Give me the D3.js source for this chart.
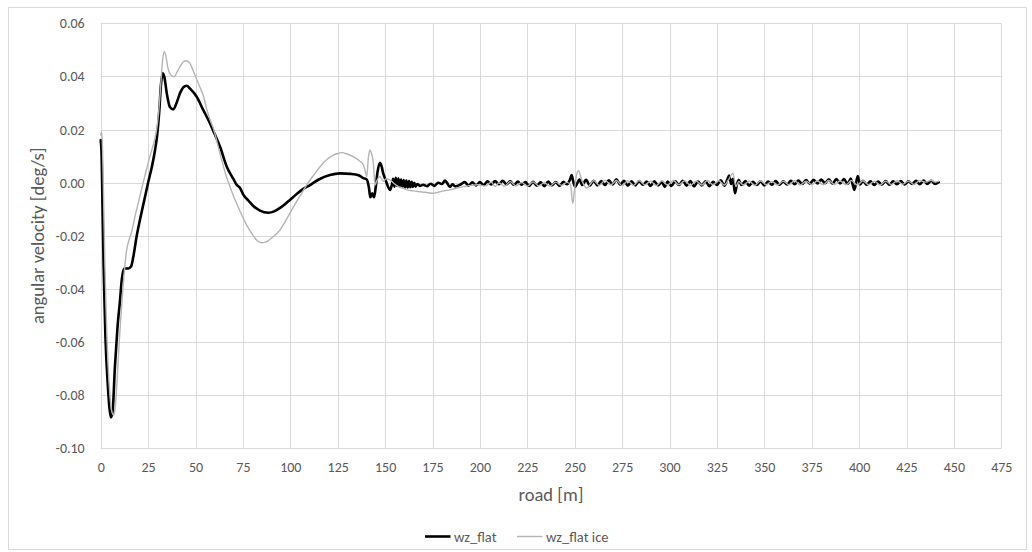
<!DOCTYPE html>
<html>
<head>
<meta charset="utf-8">
<script src="https://cdn.jsdelivr.net/npm/d3@7/dist/d3.min.js"></script>
<style>
  html, body { margin: 0; padding: 0; background: #fff; }
  svg { display: block; }
  text { font-family: Calibri, Carlito, Lato, "Noto Sans", sans-serif; fill: #595959; }
</style>
</head>
<body>
<svg id="chart" width="1032" height="552"></svg>
<script>
// ---------------- data ----------------
const xTicks = [0, 25, 50, 75, 100, 125, 150, 175, 200, 225, 250, 275, 300, 325, 350, 375, 400, 425, 450, 475];
const yTicks = [-0.10, -0.08, -0.06, -0.04, -0.02, 0.00, 0.02, 0.04, 0.06];
const seriesNames = ["wz_flat", "wz_flat ice"];
const xTitle = "road [m]";
const yTitle = "angular velocity [deg/s]";

const roadFlat = [
  0, 0.5, 0.9, 1.5, 2.0, 2.5, 3.7, 4.5, 5.4, 6.3, 7.5, 8.8, 10.2, 11.1, 12.0, 12.5, 14.6, 16.0, 17.2, 19.0,
  21.0, 23.0, 25.0, 27.0, 28.6, 29.8, 30.9, 31.8, 32.7, 33.5, 35.0, 36.5, 38.3, 40.0, 42.0, 44.0, 45.4, 47.0, 50.6, 54.0,
  57.6, 60.0, 62.9, 66.5, 69.9, 71.7, 73.5, 75.2, 78.0, 80.5, 84.0, 88.4, 91.5, 94.6, 97.0, 99.8, 103.0, 106.5, 110.4, 115.0,
  120.9, 126.2, 132.0, 136.0, 138.5, 140.3, 141.5, 142.2, 143.2, 144.2, 145.0, 146.0, 147.3, 148.2, 149.0, 150.0, 151.0, 152.6, 153.5, 154.2,
  154.9, 155.6, 156.3, 157.0, 157.7, 158.4, 159.1, 159.8, 160.5, 161.2, 161.9, 162.6, 163.3, 164.0, 164.7, 165.4, 166.1, 167.0, 168.4, 170.0,
  172.0, 174.0, 176.0, 178.0, 180.0, 181.6, 182.5, 184.2, 185.5, 187.0, 190, 192, 194, 196, 198, 200, 202, 204, 206, 208,
  210, 212, 214, 216, 218, 220, 222, 224, 226, 228, 230, 232, 234, 236, 238, 240, 242, 244, 246, 247.5,
  248.4, 249.2, 250.2, 251.2, 252.5, 254, 256, 258, 260, 262, 264, 266, 268, 270, 272, 274, 276, 278, 280, 282,
  284, 286, 288, 290, 292, 294, 296, 297.5, 299, 301, 303, 305, 307, 309, 311, 313, 315, 317, 319, 321,
  323, 325, 327, 329, 330.5, 331.5, 332.5, 333.5, 334.5, 335.5, 336.5, 338, 340, 342, 344, 346, 348, 350, 352, 354,
  356, 358, 360, 362, 364, 366, 368, 370, 372, 374, 376, 378, 380, 382, 384, 386, 388, 390, 392, 394,
  395.6, 397.5, 399.3, 400.5, 402, 404, 406, 408, 410, 412, 414, 416, 418, 420, 422, 424, 426, 428, 430, 432,
  434, 436, 438, 440, 442
];
const wzFlat = [
  0.016, 0.010, -0.0065, -0.030, -0.045, -0.058, -0.0756, -0.084, -0.0884, -0.086, -0.0693, -0.055, -0.0442, -0.0366, -0.0330, -0.0323, -0.0323, -0.0316, -0.0279, -0.020,
  -0.013, -0.0065, 0.0, 0.006, 0.012, 0.018, 0.027, 0.037, 0.0412, 0.040, 0.033, 0.0285, 0.0276, 0.030, 0.034, 0.0362, 0.0365, 0.0355, 0.0324, 0.0275,
  0.0224, 0.0185, 0.0136, 0.006, 0.0015, -0.0008, -0.0020, -0.0045, -0.0068, -0.0088, -0.0105, -0.0113, -0.0108, -0.0095, -0.0082, -0.0065, -0.0045, -0.0025, -0.0009, 0.0012,
  0.0029, 0.0035, 0.0033, 0.0028, 0.0017, 0.0012, -0.0020, -0.0055, -0.0040, -0.0055, -0.0020, 0.0040, 0.0075, 0.0060, 0.0035, 0.0015, -0.0005, -0.0027, -0.0010, 0.0015,
  -0.0015, 0.0018, -0.0012, 0.0016, -0.0014, 0.0012, -0.0016, 0.0010, -0.0018, 0.0008, -0.0018, 0.0006, -0.0017, 0.0003, -0.0016, 0.0000, -0.0015, -0.0005, -0.0012, -0.0008,
  -0.0013, -0.0004, -0.0012, 0.0000, -0.0005, 0.0008, 0.0001, -0.0016, -0.0006, -0.0014, -0.0006, 0.0002, -0.0011, 0.0001, -0.0010, 0.0002, -0.0009, 0.0005, -0.0007, 0.0006,
  -0.0006, 0.0007, -0.0006, 0.0005, -0.0009, 0.0004, -0.0008, 0.0002, -0.0012, 0.0003, -0.0011, 0.0001, -0.0013, 0.0004, -0.0010, 0.0002, -0.0012, 0.0003, -0.0006, 0.0012,
  0.0029, 0.0005, -0.0015, -0.0004, 0.0012, -0.0009, 0.0011, -0.0011, 0.0007, -0.0010, 0.0006, -0.0009, 0.0009, -0.0007, 0.0013, -0.0008, 0.0007, -0.0011, 0.0005, -0.0010,
  0.0006, -0.0008, 0.0004, -0.0012, 0.0005, -0.0010, 0.0002, -0.0016, 0.0004, -0.0012, 0.0005, -0.0009, 0.0007, -0.0011, 0.0006, -0.0014, 0.0004, -0.0010, 0.0005, -0.0013,
  0.0003, -0.0009, 0.0009, -0.0011, 0.0012, 0.0027, -0.0005, 0.0015, -0.0040, -0.0008, 0.0010, -0.0009, 0.0006, -0.0011, 0.0003, -0.0009, 0.0005, -0.0010, 0.0004, -0.0008,
  0.0006, -0.0008, 0.0005, -0.0007, 0.0007, -0.0006, 0.0008, -0.0005, 0.0010, -0.0004, 0.0011, -0.0003, 0.0012, -0.0002, 0.0013, -0.0004, 0.0014, -0.0003, 0.0014, -0.0005,
  0.0016, -0.0027, 0.0025, -0.0007, 0.0007, -0.0008, 0.0005, -0.0009, 0.0004, -0.0007, 0.0006, -0.0008, 0.0005, -0.0006, 0.0006, -0.0007, 0.0005, -0.0005, 0.0007, -0.0006,
  0.0008, -0.0005, 0.0007, -0.0005, 0.0002
];

const roadIce = [
  0, 0.5, 1.0, 1.5, 2.2, 3.0, 4.0, 5.0, 6.0, 6.8, 7.6, 8.6, 9.6, 10.5, 11.5, 12.5, 13.7, 15.0, 16.3, 18.0,
  20.2, 22.4, 24.0, 26.0, 28.0, 29.5, 30.5, 31.5, 32.5, 33.4, 34.3, 35.5, 37.0, 38.7, 40.5, 42.5, 44.2, 45.4, 47.0, 48.0,
  50.0, 52.0, 54.0, 56.0, 58.0, 59.4, 62.0, 64.0, 66.0, 68.2, 70.0, 71.7, 74.0, 77.0, 80.0, 82.5, 84.9, 87.0, 89.0, 91.0,
  94.6, 97.0, 99.8, 103.0, 106.0, 108.6, 112.0, 115.7, 119.0, 122.7, 125.0, 127.1, 130.0, 133.2, 136.0, 138.5, 139.5, 140.3, 141.2, 142.0,
  142.8, 143.8, 144.7, 145.5, 147.3, 149.0, 150.5, 152.6, 155.0, 157.0, 159.6, 162.0, 165.0, 168.4, 171.0, 173.0, 175.4, 178.0, 181.0, 184.2,
  187.0, 191.2, 195.0, 199.0, 203, 206, 208, 210, 213, 216, 219, 222, 225, 228, 231, 234, 237, 240, 243, 246,
  247.8, 249.0, 250.0, 251.0, 252.0, 253.5, 255.0, 256.4, 258, 260, 263, 266, 269, 272, 275, 278, 281, 284, 287, 290,
  293, 296, 299, 302, 305, 308, 311, 314, 317, 320, 323, 326, 329, 331, 333.5, 335, 336.5, 339, 342, 345,
  348, 351, 354, 357, 360, 363, 366, 369, 372, 375, 378, 381, 384, 387, 390, 393, 396, 399, 402, 405,
  408, 411, 414, 417, 420, 423, 426, 429, 432, 435, 438, 440, 442
];
const wzIce = [
  0.018, 0.0192, 0.012, -0.005, -0.030, -0.052, -0.070, -0.081, -0.0865, -0.0875, -0.085, -0.075, -0.062, -0.052, -0.0420, -0.0330, -0.0253, -0.0215, -0.0185, -0.0130,
  -0.0065, 0.0, 0.0045, 0.0100, 0.0150, 0.0200, 0.0260, 0.0350, 0.0450, 0.0493, 0.0480, 0.0430, 0.0405, 0.0399, 0.0420, 0.0445, 0.0458, 0.0458, 0.0450, 0.0435,
  0.0400, 0.0365, 0.0330, 0.0275, 0.0230, 0.0205, 0.0135, 0.0080, 0.0030, -0.0015, -0.0050, -0.0078, -0.0115, -0.0160, -0.0195, -0.0218, -0.0226, -0.0224, -0.0215, -0.0203,
  -0.0178, -0.0150, -0.0115, -0.0075, -0.0040, -0.0009, 0.0025, 0.0060, 0.0085, 0.0104, 0.0110, 0.0113, 0.0108, 0.0098, 0.0085, 0.0067, 0.0045, 0.0023, 0.0095, 0.0123,
  0.0110, 0.0075, -0.0009, 0.0005, 0.0023, 0.0005, 0.0015, 0.0010, -0.0005, -0.0015, -0.0021, -0.0028, -0.0031, -0.0034, -0.0036, -0.0038, -0.0040, -0.0036, -0.0031, -0.0027,
  -0.0022, -0.0015, -0.0010, -0.0008, -0.0012, 0.0002, -0.0014, 0.0000, -0.0013, 0.0004, -0.0012, 0.0001, -0.0013, 0.0003, -0.0012, 0.0000, -0.0013, 0.0002, -0.0010, 0.0001,
  -0.0008, -0.0078, -0.0020, 0.0030, 0.0045, 0.0015, -0.0010, -0.0020, -0.0008, 0.0008, -0.0010, 0.0009, -0.0008, 0.0008, -0.0011, 0.0007, -0.0010, 0.0008, -0.0008, 0.0006,
  -0.0011, 0.0007, -0.0009, 0.0008, -0.0008, 0.0007, -0.0010, 0.0006, -0.0009, 0.0008, -0.0008, 0.0007, -0.0009, 0.0010, 0.0035, -0.0015, 0.0005, -0.0009, 0.0006, -0.0010,
  0.0007, -0.0008, 0.0005, -0.0009, 0.0006, -0.0008, 0.0007, -0.0009, 0.0006, -0.0007, 0.0007, -0.0008, 0.0008, -0.0007, 0.0007, -0.0008, 0.0008, -0.0009, 0.0007, -0.0008,
  0.0006, -0.0009, 0.0006, -0.0007, 0.0007, -0.0006, 0.0006, -0.0007, 0.0008, 0.0002, 0.0009, 0.0003, 0.0005
];

// ---------------- layout ----------------
const svg = d3.select("#chart");
const plot = { left: 100.7, right: 1001.3, top: 23.3, bottom: 448.3 };

svg.append("rect")
  .attr("x", 8.5).attr("y", 7.5)
  .attr("width", 1018).attr("height", 542)
  .attr("fill", "#fff").attr("stroke", "#d9d9d9").attr("stroke-width", 1);

const x = d3.scaleLinear().domain([0, 475]).range([plot.left, plot.right]);
const y = d3.scaleLinear().domain([-0.10, 0.06]).range([plot.bottom, plot.top]);

// gridlines
const grid = svg.append("g").attr("class", "grid");
grid.selectAll("line.h").data(yTicks).enter().append("line")
  .attr("x1", plot.left).attr("x2", plot.right)
  .attr("y1", d => Math.round(y(d)) + 0.5).attr("y2", d => Math.round(y(d)) + 0.5)
  .attr("stroke", "#d9d9d9").attr("stroke-width", 1);
grid.selectAll("line.v").data(xTicks).enter().append("line")
  .attr("y1", plot.top).attr("y2", plot.bottom)
  .attr("x1", d => Math.round(x(d)) + 0.5).attr("x2", d => Math.round(x(d)) + 0.5)
  .attr("stroke", "#d9d9d9").attr("stroke-width", 1);

// axes (labels only)
const yAxis = d3.axisLeft(y).tickValues(yTicks).tickSize(0).tickPadding(16)
  .tickFormat(d => d.toFixed(2));
const gy = svg.append("g").attr("transform", `translate(${plot.left},0)`).call(yAxis);
gy.select(".domain").remove();
gy.selectAll("text").attr("font-size", 14).attr("fill", "#595959")
  .style("font-family", "Calibri, Carlito, Lato, sans-serif");

const xAxis = d3.axisBottom(x).tickValues(xTicks).tickSize(0).tickPadding(14)
  .tickFormat(d => String(d));
const gx = svg.append("g").attr("transform", `translate(0,${plot.bottom})`).call(xAxis);
gx.select(".domain").remove();
gx.selectAll("text").attr("font-size", 14).attr("fill", "#595959")
  .style("font-family", "Calibri, Carlito, Lato, sans-serif");

// axis titles
svg.append("text")
  .attr("x", (plot.left + plot.right) / 2).attr("y", 501)
  .attr("text-anchor", "middle").attr("font-size", 18.5)
  .text(xTitle);
svg.append("text")
  .attr("transform", `translate(44,${(plot.top + plot.bottom) / 2}) rotate(-90)`)
  .attr("text-anchor", "middle").attr("font-size", 18.5)
  .text(yTitle);

// series (wz_flat first, ice drawn on top as in the source)
const seriesData = [
  { name: seriesNames[0], xs: roadFlat, ys: wzFlat, color: "#000000", width: 2.6 },
  { name: seriesNames[1], xs: roadIce, ys: wzIce, color: "#b4b4b4", width: 1.4 }
];
const line = d3.line().x(d => x(d[0])).y(d => y(d[1])).curve(d3.curveMonotoneX);
seriesData.forEach(s => {
  const pts = s.xs.map((v, i) => [v, s.ys[i]]);
  svg.append("path").datum(pts)
    .attr("d", line)
    .attr("fill", "none")
    .attr("stroke", s.color)
    .attr("stroke-width", s.width)
    .attr("stroke-linejoin", "round")
    .attr("stroke-linecap", "round");
});

// legend
const legendItems = [
  { name: seriesNames[0], color: "#000000", width: 2.6, x0: 425 },
  { name: seriesNames[1], color: "#b4b4b4", width: 1.4, x0: 517 }
];
const lg = svg.append("g");
legendItems.forEach(it => {
  lg.append("line")
    .attr("x1", it.x0).attr("x2", it.x0 + 25.5)
    .attr("y1", 536.5).attr("y2", 536.5)
    .attr("stroke", it.color).attr("stroke-width", it.width);
  lg.append("text")
    .attr("x", it.x0 + 29).attr("y", 541.5)
    .attr("font-size", 14.5)
    .text(it.name);
});
</script>
</body>
</html>
